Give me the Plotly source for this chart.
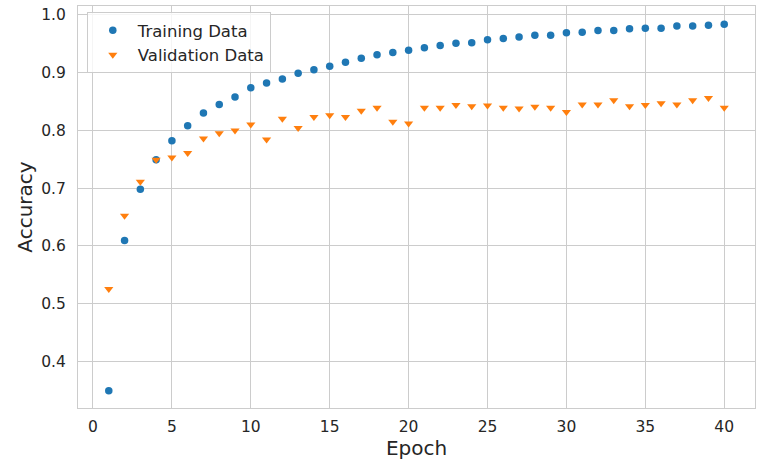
import plotly.graph_objects as go

epochs = list(range(1, 41))
train_acc = [0.349, 0.609, 0.698, 0.749, 0.782, 0.808, 0.830, 0.845, 0.858, 0.874,
             0.882, 0.889, 0.899, 0.905, 0.911, 0.918, 0.925, 0.931, 0.935, 0.939,
             0.943, 0.947, 0.951, 0.952, 0.957, 0.959, 0.962, 0.965, 0.965, 0.969,
             0.970, 0.973, 0.973, 0.976, 0.977, 0.977, 0.981, 0.981, 0.982, 0.984]
val_acc = [0.525, 0.652, 0.711, 0.749, 0.753, 0.761, 0.786, 0.795, 0.800, 0.810,
           0.784, 0.820, 0.804, 0.823, 0.826, 0.823, 0.834, 0.839, 0.815, 0.812,
           0.839, 0.839, 0.844, 0.842, 0.843, 0.839, 0.838, 0.841, 0.839, 0.832,
           0.845, 0.845, 0.852, 0.842, 0.844, 0.847, 0.845, 0.852, 0.856, 0.839]
x_ticks = [0, 5, 10, 15, 20, 25, 30, 35, 40]
y_ticks = [0.4, 0.5, 0.6, 0.7, 0.8, 0.9, 1.0]
y_tick_labels = ["0.4", "0.5", "0.6", "0.7", "0.8", "0.9", "1.0"]

FONT = "DejaVu Sans"
TXT = "#262626"
GRID = "#cccccc"

fig = go.Figure()
fig.add_trace(go.Scatter(
    x=epochs, y=train_acc, mode="markers", name="Training Data",
    marker=dict(symbol="circle", size=7.5, color="#1f77b4", line=dict(width=0)),
))
fig.add_trace(go.Scatter(
    x=epochs, y=val_acc, mode="markers", name="Validation Data",
    marker=dict(symbol="triangle-down", size=8, color="#ff7f0e", line=dict(width=0)),
))

fig.update_layout(
    width=757, height=461,
    margin=dict(l=78, r=2, t=6, b=53),
    paper_bgcolor="white", plot_bgcolor="white",
    font=dict(family=FONT, color=TXT, size=15),
    showlegend=True,
    legend=dict(
        x=0.013, y=0.985, xanchor="left", yanchor="top",
        bgcolor="rgba(255,255,255,0.8)", bordercolor=GRID, borderwidth=1,
        font=dict(family=FONT, size=16.5, color=TXT),
        itemsizing="trace", itemwidth=40,
    ),
    xaxis=dict(
        range=[-0.95, 41.95], tickmode="array", tickvals=x_ticks,
        showgrid=True, gridcolor=GRID, gridwidth=1, zeroline=False,
        showline=True, linecolor=GRID, linewidth=1, mirror=True,
        ticks="", tickfont=dict(size=15.5, color=TXT), ticklabelstandoff=4,
        automargin=False,
        title=dict(text="Epoch", font=dict(size=20, color=TXT), standoff=4),
    ),
    yaxis=dict(
        range=[0.319, 1.0155], tickmode="array", tickvals=y_ticks, ticktext=y_tick_labels,
        showgrid=True, gridcolor=GRID, gridwidth=1, zeroline=False,
        showline=True, linecolor=GRID, linewidth=1, mirror=True,
        ticks="", tickfont=dict(size=15.5, color=TXT), ticklabelstandoff=8,
        automargin=False,
        title=dict(text="Accuracy", font=dict(size=20, color=TXT), standoff=3),
    ),
)

fig.write_html("out.html", config={"displayModeBar": False},
               post_script="document.body.style.margin='0';")
